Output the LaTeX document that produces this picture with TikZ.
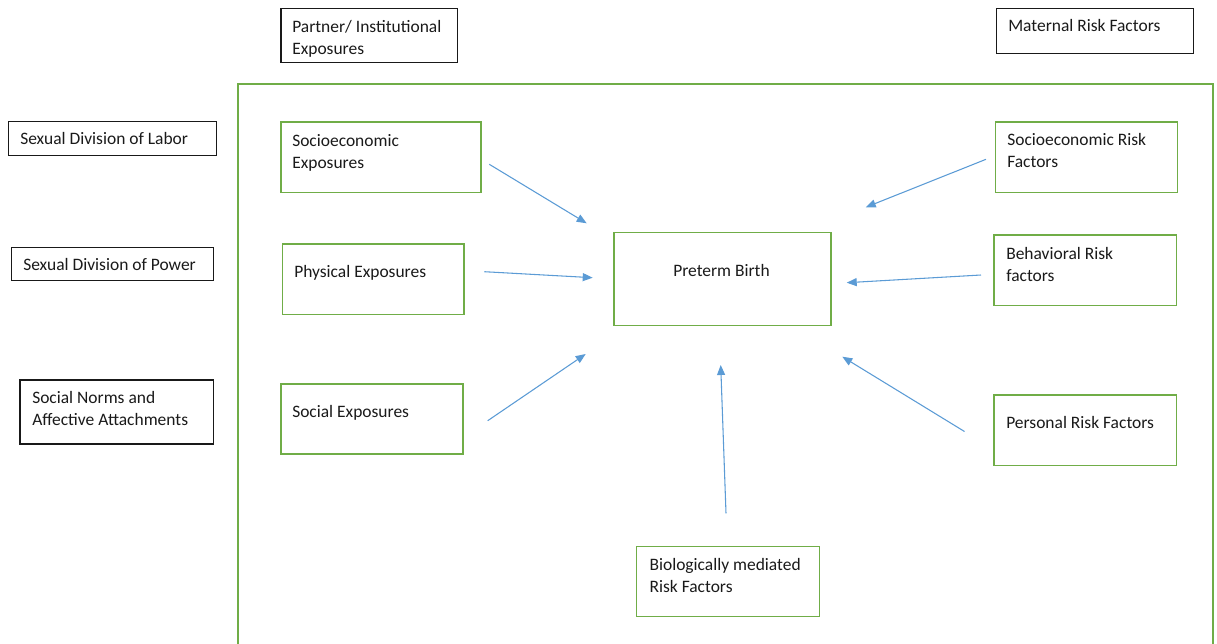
\documentclass[tikz,border=0pt]{standalone}
\usepackage{fontspec}
\setmainfont{Carlito}
\usetikzlibrary{arrows.meta,fit}
\definecolor{gr}{HTML}{70AD47}
\definecolor{bl}{HTML}{5B9BD5}
\definecolor{tx}{HTML}{1A1A1A}
\newcommand{\twol}[2]{\begin{tabular}[t]{@{}l@{}}#1\\#2\end{tabular}}
\tikzset{
  gbox/.style={draw=gr, line width=1pt, inner sep=0pt, rectangle},
  kbox/.style={draw=black!90, line width=1pt, inner sep=0pt, rectangle},
  txt/.style={anchor=base west, inner sep=0pt, text=tx, font=\fontsize{13.1}{16.5}\selectfont},
  arr/.style={draw=bl, line width=0.8pt, -{Triangle[length=7.5pt,width=6pt]}},
}
\begin{document}
\begin{tikzpicture}[x=0.75pt,y=-0.75pt]
\useasboundingbox (0,0) rectangle (1217,643);
% outer green frame (open at bottom)
\draw[draw=gr, line width=1pt] (238,650) -- (238,84) -- (1213,84) -- (1213,650);
% black boxes
\node[kbox, fit={(281,8.3) (457.3,62.3)}] (pi) {};
\node[txt] (pit) at (292,32) {\twol{Partner/ Institutional}{Exposures}};
\node[kbox, fit={(996.7,8.3) (1193.3,53.3)}] (mr) {};
\node[txt] (mrt) at (1008,31) {Maternal Risk Factors};
\node[kbox, fit={(8.3,121.7) (216.7,155.7)}] (sl) {};
\node[txt] (slt) at (20,144) {Sexual Division of Labor};
\node[kbox, fit={(11.7,247.7) (213.3,280.7)}] (sp) {};
\node[txt] (spt) at (23,270) {Sexual Division of Power};
\node[kbox, fit={(20,380) (213.3,444)}] (sn) {};
\node[txt] (snt) at (32,403.3) {\twol{Social Norms and}{Affective Attachments}};
% green boxes
\node[gbox, fit={(281,122) (481,192.3)}] (se) {};
\node[txt] (set) at (292,146) {\twol{Socioeconomic}{Exposures}};
\node[gbox, fit={(282.3,244) (464,314.3)}] (pe) {};
\node[txt] (pet) at (294,277) {Physical Exposures};
\node[gbox, fit={(281,384) (463,454)}] (so) {};
\node[txt] (sot) at (292,417) {Social Exposures};
\node[gbox, fit={(614,232.7) (831,325.7)}] (pb) {};
\node[txt] (pbt) at (673,276) {Preterm Birth};
\node[gbox, fit={(995.7,122) (1177.3,192.3)}] (sr) {};
\node[txt] (srt) at (1007,145.5) {\twol{Socioeconomic Risk}{Factors}};
\node[gbox, fit={(994,235) (1176.7,305.7)}] (br) {};
\node[txt] (brt) at (1006,259.3) {\twol{Behavioral Risk}{factors}};
\node[gbox, fit={(994,395) (1176.7,465.7)}] (pr) {};
\node[txt] (prt) at (1006,428.3) {Personal Risk Factors};
\node[gbox, fit={(636.7,546.7) (819.3,616.7)}] (bm) {};
\node[txt] (bmt) at (649.3,570) {\twol{Biologically mediated}{Risk Factors}};
% arrow end points
\coordinate (a1s) at (489.3,164.3); \coordinate (a1e) at (586.7,223.3);
\coordinate (a2s) at (484.3,271.7); \coordinate (a2e) at (592.7,277.7);
\coordinate (a3s) at (487.7,420.7); \coordinate (a3e) at (585.7,354);
\coordinate (a4s) at (726,513.3);   \coordinate (a4e) at (720.7,365);
\coordinate (a5s) at (964.5,431.5); \coordinate (a5e) at (842.3,356.7);
\coordinate (a6s) at (981,275);     \coordinate (a6e) at (846.7,282.7);
\coordinate (a7s) at (986,159.3);   \coordinate (a7e) at (865.7,207.3);
\draw[arr] (a1s) -- (a1e);
\draw[arr] (a2s) -- (a2e);
\draw[arr] (a3s) -- (a3e);
\draw[arr] (a4s) -- (a4e);
\draw[arr] (a5s) -- (a5e);
\draw[arr] (a6s) -- (a6e);
\draw[arr] (a7s) -- (a7e);
\end{tikzpicture}
\end{document}
